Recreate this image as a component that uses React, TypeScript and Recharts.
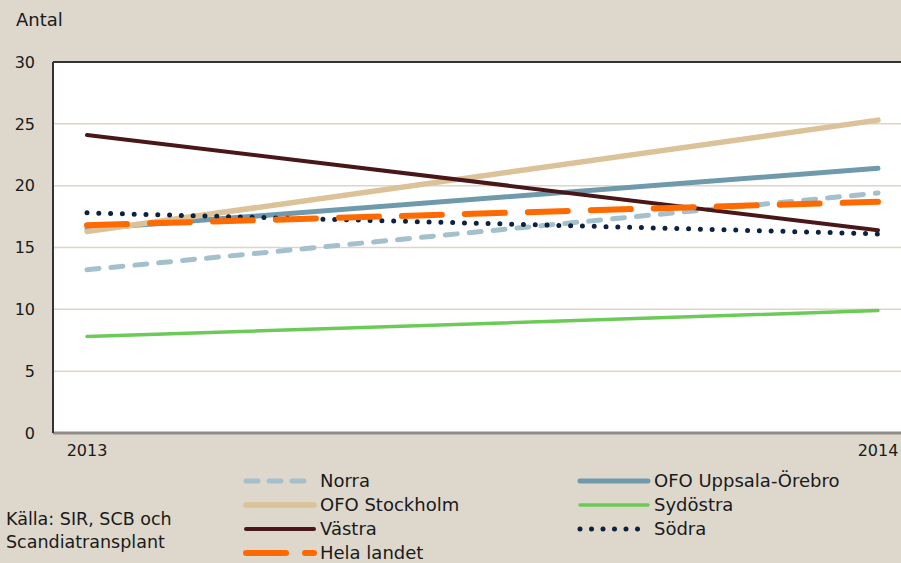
import { LineChart, Line, XAxis, YAxis, CartesianGrid, ReferenceLine, Legend } from 'recharts';

const years = ['2013', '2014'];
const norra = [13.2, 19.4];
const uppsala = [16.5, 21.4];
const stockholm = [16.3, 25.3];
const sydostra = [7.8, 9.9];
const vastra = [24.1, 16.4];
const sodra = [17.8, 16.1];
const helaLandet = [16.8, 18.7];
const yTicks = [0, 5, 10, 15, 20, 25, 30];

const data = years.map((year, i) => ({
  year,
  norra: norra[i],
  uppsala: uppsala[i],
  stockholm: stockholm[i],
  sydostra: sydostra[i],
  vastra: vastra[i],
  sodra: sodra[i],
  hela: helaLandet[i],
}));

const FONT = '"DejaVu Sans", sans-serif';
const TEXT = '#1a1a1a';

const series = [
  { key: 'norra', name: 'Norra', color: '#a3c0cc', width: 5, dash: '12 12', legendDash: '12 11' },
  { key: 'uppsala', name: 'OFO Uppsala-Örebro', color: '#6f9aab', width: 5, dash: undefined, legendDash: undefined },
  { key: 'stockholm', name: 'OFO Stockholm', color: '#dcc298', width: 5.5, dash: undefined, legendDash: undefined },
  { key: 'sydostra', name: 'Sydöstra', color: '#6ccb58', width: 3.5, dash: undefined, legendDash: undefined },
  { key: 'vastra', name: 'Västra', color: '#4a1719', width: 4, dash: undefined, legendDash: undefined },
  { key: 'sodra', name: 'Södra', color: '#0c2240', width: 5, dash: '0 11.8', legendDash: '0 11.5' },
  { key: 'hela', name: 'Hela landet', color: '#ff6a00', width: 6, dash: '40 23', legendDash: '40 19' },
];

// legend block sits in the bottom 100px of the chart (top = 463)
function LegendBox() {
  return (
    <div style={{ position: 'relative', width: 901, height: 100, fontFamily: FONT }}>
      {series.map((s, i) => {
        const col = i % 2;
        const row = Math.floor(i / 2);
        const left = col === 0 ? 243 : 577;
        const center = 481 + row * 24 - 463;
        return (
          <div key={s.key} style={{ position: 'absolute', left, top: center - 12, height: 24, display: 'flex', alignItems: 'center' }}>
            <svg width={74} height={24}>
              <line
                x1={3}
                y1={12}
                x2={71}
                y2={12}
                stroke={s.color}
                strokeWidth={s.width}
                strokeDasharray={s.legendDash}
                strokeLinecap="round"
              />
            </svg>
            <span style={{ fontSize: 18, color: TEXT, marginLeft: 3, whiteSpace: 'nowrap', lineHeight: '22px' }}>{s.name}</span>
          </div>
        );
      })}
    </div>
  );
}

export default function App() {
  return (
    <div style={{ position: 'absolute', left: 0, top: 0, width: 901, height: 563, background: '#ddd7cc', overflow: 'hidden', fontFamily: FONT }}>
      <div style={{ position: 'absolute', left: 16, top: 9, fontSize: 18, color: TEXT }}>Antal</div>
      <div style={{ position: 'absolute', left: 6, top: 508, fontSize: 17.5, color: TEXT, lineHeight: '23px' }}>
        Källa: SIR, SCB och
        <br />
        Scandiatransplant
      </div>
      <LineChart width={901} height={563} data={data} margin={{ top: 62, right: 0, bottom: 0, left: 0 }}>
        <CartesianGrid vertical={false} stroke="#ddd5c8" strokeWidth={1.5} fill="#ffffff" fillOpacity={1} />
        <XAxis
          dataKey="year"
          padding={{ left: 34, right: 23 }}
          height={30}
          tickLine={false}
          tickSize={0}
          tickMargin={12}
          axisLine={{ stroke: '#8f8b86', strokeWidth: 3 }}
          tick={{ fill: TEXT, fontSize: 16, fontFamily: FONT }}
        />
        <YAxis
          domain={[0, 30]}
          ticks={yTicks}
          width={53}
          tickLine={false}
          tickSize={0}
          tickMargin={18}
          axisLine={{ stroke: '#333', strokeWidth: 2 }}
          tick={{ fill: TEXT, fontSize: 16, fontFamily: FONT }}
        />
        <ReferenceLine y={30} stroke="#333" strokeWidth={2} />
        {series.map((s) => (
          <Line
            key={s.key}
            type="linear"
            dataKey={s.key}
            name={s.name}
            stroke={s.color}
            strokeWidth={s.width}
            strokeDasharray={s.dash}
            strokeLinecap="round"
            dot={false}
            activeDot={false}
            isAnimationActive={false}
          />
        ))}
        <Legend
          verticalAlign="bottom"
          wrapperStyle={{ left: 0, bottom: 0, width: 901, height: 100 }}
          content={() => <LegendBox />}
        />
      </LineChart>
    </div>
  );
}
